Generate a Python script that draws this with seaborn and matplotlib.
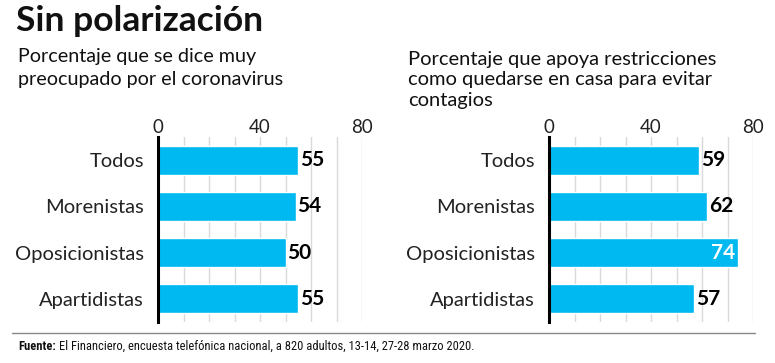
import matplotlib
matplotlib.use("Agg")
import matplotlib.pyplot as plt
from matplotlib import font_manager
import seaborn as sns
import pandas as pd

# Datos
grupos = ["Todos", "Morenistas", "Oposicionistas", "Apartidistas"]
preocupados = [55, 54, 50, 55]
restricciones = [59, 62, 74, 57]

titulo = "Sin polarización"
sub_izq = "Porcentaje que se dice muy\npreocupado por el coronavirus"
sub_der = "Porcentaje que apoya restricciones\ncomo quedarse en casa para evitar\ncontagios"
fuente = "El Financiero, encuesta telefónica nacional, a 820 adultos, 13-14, 27-28 marzo 2020."

azul = "#00b9f0"

sns.set_theme(style="white")
plt.rcParams["font.family"] = ["Lato", "DejaVu Sans"]

# fuente angosta para la nota, si existe
disponibles = {f.name for f in font_manager.fontManager.ttflist}
angosta = "Roboto"
for nombre in ["Liberation Sans Narrow", "Roboto Condensed", "Open Sans Condensed",
               "DejaVu Sans Condensed"]:
    if nombre in disponibles:
        angosta = nombre
        break

fig = plt.figure(figsize=(7.75, 3.63), dpi=100)
W, H = 775, 363


def ejes(x0, x1, y0, y1):
    return fig.add_axes([x0 / W, 1 - y1 / H, (x1 - x0) / W, (y1 - y0) / H])


def panel(ax, valores):
    df = pd.DataFrame({"grupo": grupos, "valor": valores})
    sns.barplot(data=df, x="valor", y="grupo", color=azul, width=0.63,
                saturation=1, ax=ax, orient="h")
    ax.set_xlim(0, 80)
    ax.set_ylim(3.5, -0.5)
    for v in range(10, 81, 10):
        ax.axvline(v, color="#d9d9d9", lw=1, zorder=0)
    for s in ["top", "right", "bottom"]:
        ax.spines[s].set_visible(False)
    ax.spines["left"].set_color("black")
    ax.spines["left"].set_linewidth(2.2)
    ax.xaxis.tick_top()
    ax.set_xticks([0, 40, 80])
    ax.tick_params(axis="x", length=0, pad=1, labelsize=13.5, colors="#222222")
    ax.tick_params(axis="y", length=0, pad=10, labelsize=14.5, colors="#222222")
    ax.set_xlabel("")
    ax.set_ylabel("")
    for i, v in enumerate(valores):
        if v > 70:
            ax.text(v - 1, i, str(v), ha="right", va="center", color="white",
                    fontsize=15, fontweight="bold")
        else:
            ax.text(v + 0.6, i, str(v), ha="left", va="center", color="black",
                    fontsize=15, fontweight="bold")


ax1 = ejes(158, 362, 137, 322)
panel(ax1, preocupados)
ax2 = ejes(549, 753, 137, 322)
panel(ax2, restricciones)

fig.text(16 / W, 1 - 21 / H, titulo, fontsize=25.5, fontweight="bold",
         va="center", ha="left", color="#111111")
fig.text(18 / W, 1 - 68 / H, sub_izq, fontsize=14.2, va="center", ha="left",
         color="#111111", linespacing=1.4)
fig.text(408 / W, 1 - 80 / H, sub_der, fontsize=14.5, va="center", ha="left",
         color="#111111", linespacing=1.22)

fig.add_artist(plt.Line2D([12 / W, 755 / W], [1 - 333 / H, 1 - 333 / H],
                          color="#888888", lw=1))

# ajustar tamaño de la nota para que ocupe un ancho parecido
tam = 10
fig.canvas.draw()
r = fig.canvas.get_renderer()
prueba = fig.text(0, 0, "Fuente: " + fuente, fontsize=tam, family=[angosta, "DejaVu Sans"])
ancho = prueba.get_window_extent(r).width
prueba.remove()
tam = max(9, min(10.5, tam * 410 / ancho))

t = fig.text(18 / W, 1 - 346 / H, "Fuente:", fontsize=tam, fontweight="bold",
             va="center", ha="left", color="#111111",
             family=[angosta, "DejaVu Sans"])
bb = t.get_window_extent(r)
fig.text((bb.x1 + 3) / W, 1 - 346 / H, fuente, fontsize=tam, va="center",
         ha="left", color="#111111", family=[angosta, "DejaVu Sans"])

fig.savefig("out.png", dpi=100)
